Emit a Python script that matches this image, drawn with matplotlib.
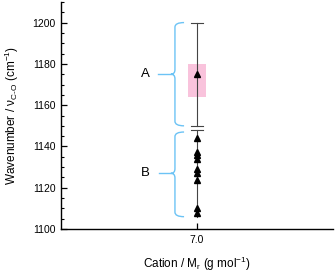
import matplotlib
matplotlib.use("Agg")
import matplotlib.pyplot as plt
from matplotlib.path import Path
from matplotlib.patches import PathPatch, Rectangle

plt.rcParams['font.family'] = ['Liberation Sans', 'DejaVu Sans']
plt.rcParams['mathtext.fontset'] = 'custom'
plt.rcParams['mathtext.rm'] = 'Liberation Sans'
plt.rcParams['mathtext.it'] = 'Liberation Sans'

# data
cation_x = 7.0
xticks = [7.0]
xtick_labels = ["7.0"]
groupA_value = 1175
groupA_range = (1150, 1200)
groupA_box = (1164, 1180)
groupB_values = [1144, 1137.5, 1136, 1134, 1129, 1127, 1124, 1110, 1108]
groupB_range = (1106, 1148)
groupB_mid = 1127
labels = ["A", "B"]

fig = plt.figure(figsize=(3.36, 2.75), dpi=100)
ax = fig.add_axes([0.1815, 0.167, 0.8095, 0.826])
ax.set_xlim(6.0, 8.0)
ax.set_ylim(1100, 1210)

# pink box for A
bw = 0.068
ax.add_patch(Rectangle((cation_x - bw, groupA_box[0]), 2 * bw, groupA_box[1] - groupA_box[0],
                       facecolor='#f9c3dc', edgecolor='none', zorder=1))

# error bars (ranges)
cap = 0.045
for lo, hi in [groupA_range, groupB_range]:
    ax.plot([cation_x, cation_x], [lo, hi], color='#444444', lw=0.8, zorder=2)
for yv in [groupA_range[0], groupA_range[1], groupB_range[1]]:
    ax.plot([cation_x - cap, cation_x + cap], [yv, yv], color='#444444', lw=0.8, zorder=2)

# markers
ax.plot([cation_x], [groupA_value], marker='^', color='black', ms=4.8, ls='none', zorder=3)
ax.plot([cation_x] * len(groupB_values), groupB_values, marker='^', color='black',
        ms=4.8, ls='none', zorder=3)


def brace(ax, y0, y1, ymid, xv, xend, xtip, color):
    r = 2.2
    dx = 0.03
    verts = [(xend, y1), (xv, y1), (xv, y1 - r),
             (xv, ymid + r), (xv, ymid), (xv - dx, ymid),
             (xv, ymid), (xv, ymid - r),
             (xv, y0 + r), (xv, y0), (xend, y0)]
    codes = [Path.MOVETO, Path.CURVE3, Path.CURVE3,
             Path.LINETO, Path.CURVE3, Path.CURVE3,
             Path.CURVE3, Path.CURVE3,
             Path.LINETO, Path.CURVE3, Path.CURVE3]
    ax.add_patch(PathPatch(Path(verts, codes), facecolor='none', edgecolor=color, lw=1.0, zorder=2))
    ax.plot([xtip, xv - dx], [ymid, ymid], color=color, lw=1.0)


blue = '#6cc3f5'
brace(ax, groupA_range[0], groupA_range[1], groupA_value, 6.838, 6.905, 6.71, blue)
brace(ax, groupB_range[0], groupB_range[1] - 1, groupB_mid, 6.838, 6.905, 6.72, blue)
ax.text(6.62, groupA_value, labels[0], fontsize=9.5, ha='center', va='center')
ax.text(6.62, groupB_mid, labels[1], fontsize=9.5, ha='center', va='center')

ax.set_xticks(xticks)
ax.set_xticklabels(xtick_labels)
ax.set_yticks([1100, 1120, 1140, 1160, 1180, 1200])
ax.set_yticks(range(1100, 1211, 5), minor=True)
for s in ['top', 'right']:
    ax.spines[s].set_visible(False)
for s in ['left', 'bottom']:
    ax.spines[s].set_linewidth(1.0)
ax.tick_params(direction='in', length=4, width=0.9, labelsize=7.5, pad=4)
ax.tick_params(which='minor', direction='in', length=2.2, width=0.8)
ax.set_xlabel("Cation / M$_\\mathregular{r}$ (g mol$^\\mathregular{-1}$)", fontsize=8.5, labelpad=7)
ax.set_ylabel("Wavenumber / ν$_\\mathregular{C\\text{-}O}$ (cm$^\\mathregular{-1}$)", fontsize=8.5, labelpad=8)

fig.savefig("out.png", dpi=100)
